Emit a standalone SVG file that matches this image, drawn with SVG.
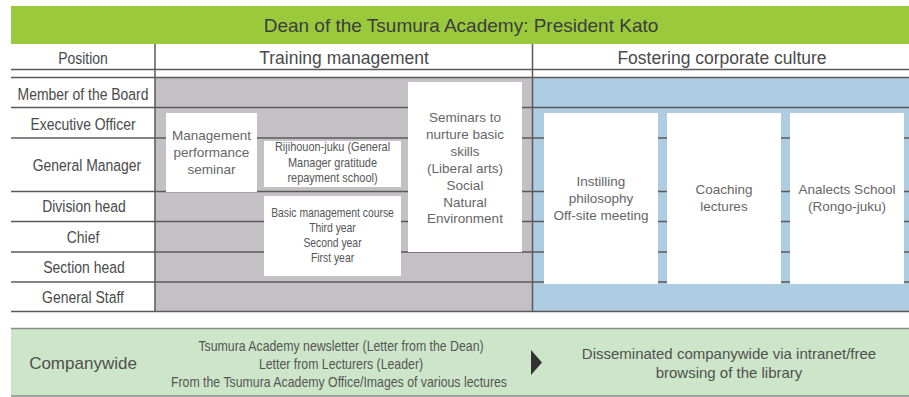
<svg xmlns="http://www.w3.org/2000/svg" width="909" height="397" viewBox="0 0 909 397">
<style>
text{font-family:"Liberation Sans",Arial,Helvetica,sans-serif;fill:#555;text-anchor:middle}
.hd{font-size:19px;fill:#3c3c3c}
.col{font-size:17.5px;fill:#4a4a4a}
.lbl{font-size:16.5px;fill:#4a4a4a}
.bx{font-size:13.5px;fill:#666}
.bxc{font-size:13px;fill:#555}
.ln{stroke:#5a5a5a;stroke-width:1.5;fill:none}
.box{fill:#fff}
</style>
<rect x="0" y="0" width="909" height="397" fill="#fff"/>
<g id="header">
<rect x="11" y="6" width="898" height="38" fill="#9aca3c"/>
<text class="hd" x="461" y="32">Dean of the Tsumura Academy: President Kato</text>
</g>
<g id="regions">
<rect x="155" y="78" width="377" height="234" fill="#c5bfc6"/>
<rect x="532" y="78" width="377" height="234" fill="#aecde2"/>
</g>
<g id="grid">
<line class="ln" x1="11" y1="69.5" x2="909" y2="69.5"/>
<line class="ln" x1="11" y1="77.5" x2="909" y2="77.5"/>
<line class="ln" x1="11" y1="107.5" x2="909" y2="107.5"/>
<line class="ln" x1="11" y1="138" x2="909" y2="138"/>
<line class="ln" x1="11" y1="191.5" x2="909" y2="191.5"/>
<line class="ln" x1="11" y1="221.5" x2="909" y2="221.5"/>
<line class="ln" x1="11" y1="252" x2="909" y2="252"/>
<line class="ln" x1="11" y1="282" x2="909" y2="282"/>
<line class="ln" x1="11" y1="311.5" x2="909" y2="311.5"/>
<line class="ln" x1="155" y1="44" x2="155" y2="312"/>
<line class="ln" x1="532.5" y1="44" x2="532.5" y2="312"/>
</g>
<g id="column-heads">
<text class="lbl" transform="translate(83,64) scale(0.845,1)">Position</text>
<text class="col" x="344" y="64">Training management</text>
<text class="col" x="722" y="64">Fostering corporate culture</text>
</g>
<g id="positions">
<text class="lbl" transform="translate(83,99.5) scale(0.845,1)">Member of the Board</text>
<text class="lbl" transform="translate(83,129.5) scale(0.845,1)">Executive Officer</text>
<text class="lbl" transform="translate(87,171) scale(0.845,1)">General Manager</text>
<text class="lbl" transform="translate(84,212) scale(0.845,1)">Division head</text>
<text class="lbl" transform="translate(83,242.5) scale(0.845,1)">Chief</text>
<text class="lbl" transform="translate(84,272.5) scale(0.845,1)">Section head</text>
<text class="lbl" transform="translate(83,302.5) scale(0.845,1)">General Staff</text>
</g>
<g id="management-performance-seminar">
<rect class="box" x="166" y="113" width="91" height="79"/>
<text class="bx" x="211.5" y="140">Management</text>
<text class="bx" x="211.5" y="157">performance</text>
<text class="bx" x="211.5" y="174">seminar</text>
</g>
<g id="rijihouon-juku">
<rect class="box" x="264" y="141" width="137" height="46"/>
<text class="bxc" transform="translate(332.5,151) scale(0.845,1)">Rijihouon-juku (General</text>
<text class="bxc" transform="translate(332.5,166.5) scale(0.845,1)">Manager gratitude</text>
<text class="bxc" transform="translate(332.5,182) scale(0.845,1)">repayment school)</text>
</g>
<g id="basic-management-course">
<rect class="box" x="264" y="196" width="137" height="80"/>
<text class="bxc" transform="translate(332.5,217) scale(0.83,1)" style="font-size:12.5px">Basic management course</text>
<text class="bxc" transform="translate(332.5,231.5) scale(0.83,1)" style="font-size:12.5px">Third year</text>
<text class="bxc" transform="translate(332.5,246.5) scale(0.83,1)" style="font-size:12.5px">Second year</text>
<text class="bxc" transform="translate(332.5,261.5) scale(0.83,1)" style="font-size:12.5px">First year</text>
</g>
<g id="seminars-basic-skills">
<rect class="box" x="408" y="82" width="114" height="170"/>
<text class="bx" x="465" y="122">Seminars to</text>
<text class="bx" x="465" y="139">nurture basic</text>
<text class="bx" x="465" y="156">skills</text>
<text class="bx" x="465" y="173">(Liberal arts)</text>
<text class="bx" x="465" y="190">Social</text>
<text class="bx" x="465" y="206.5">Natural</text>
<text class="bx" x="465" y="223">Environment</text>
</g>
<g id="instilling-philosophy">
<rect class="box" x="544" y="113" width="114" height="171"/>
<text class="bx" x="601" y="186">Instilling</text>
<text class="bx" x="601" y="203">philosophy</text>
<text class="bx" x="601" y="220">Off-site meeting</text>
</g>
<g id="coaching-lectures">
<rect class="box" x="667" y="113" width="114" height="171"/>
<text class="bx" x="724" y="194">Coaching</text>
<text class="bx" x="724" y="211">lectures</text>
</g>
<g id="analects-school">
<rect class="box" x="790" y="113" width="114" height="171"/>
<text class="bx" x="847" y="194">Analects School</text>
<text class="bx" x="847" y="211">(Rongo-juku)</text>
</g>
<g id="companywide">
<rect x="11" y="328.5" width="898" height="67.5" fill="#cde6c9"/>
<line x1="11" y1="328.5" x2="909" y2="328.5" stroke="#8a8a8a" stroke-width="1.5"/>
<line x1="11" y1="396" x2="909" y2="396" stroke="#8a8a8a" stroke-width="1.5"/>
<text x="83" y="369" style="font-size:17px;fill:#505050">Companywide</text>
<text class="bxc" transform="translate(341,351) scale(0.88,1)" style="font-size:14px">Tsumura Academy newsletter (Letter from the Dean)</text>
<text class="bxc" transform="translate(341,369) scale(0.88,1)" style="font-size:14px">Letter from Lecturers (Leader)</text>
<text class="bxc" transform="translate(339,387) scale(0.88,1)" style="font-size:14px">From the Tsumura Academy Office/Images of various lectures</text>
<text x="729" y="359" style="font-size:15px;fill:#505050">Disseminated companywide via intranet/free</text>
<text x="729" y="378" style="font-size:15px;fill:#505050">browsing of the library</text>
</g>
<g id="connectors">
<polygon points="531,350 542,362.5 531,375" fill="#333"/>
</g>
</svg>
